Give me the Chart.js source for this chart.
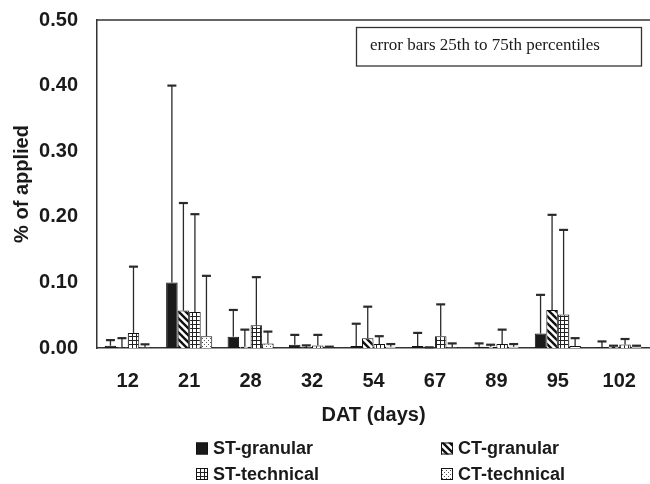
<!DOCTYPE html>
<html>
<head>
<meta charset="utf-8">
<script src="https://cdn.jsdelivr.net/npm/chart.js@4.4.1/dist/chart.umd.min.js"></script>
<style>
  html, body { margin: 0; padding: 0; background: #fff; }
  #wrap { width: 650px; height: 484px; }
</style>
</head>
<body>
<div id="wrap"><canvas id="chart" width="650" height="484"></canvas></div>
<script>
// ===== data =====
var DAYS = ["12", "21", "28", "32", "54", "67", "89", "95", "102"];
var Y_TICKS = [0, 0.1, 0.2, 0.3, 0.4, 0.5];
var SERIES_NAMES = ["ST-granular", "CT-granular", "ST-technical", "CT-technical"];

// median values (bar height)
var ST_GRANULAR  = [0.0035, 0.100, 0.017, 0.005, 0.003, 0.003, 0.002, 0.022, 0.001];
var CT_GRANULAR  = [0.001, 0.057, 0.002, 0.001, 0.015, 0.0005, 0.002, 0.058, 0.002];
var ST_TECHNICAL = [0.023, 0.055, 0.0345, 0.004, 0.006, 0.018, 0.006, 0.051, 0.0055];
var CT_TECHNICAL = [0.001, 0.018, 0.007, 0.001, 0.002, 0.001, 0.002, 0.003, 0.002];

// 75th percentiles (top of error bar)
var ST_GRANULAR_P75  = [0.012, 0.400, 0.058, 0.020, 0.037, 0.023, 0.007, 0.081, 0.010];
var CT_GRANULAR_P75  = [0.015, 0.221, 0.028, 0.004, 0.063, 0.001, 0.005, 0.203, 0.0035];
var ST_TECHNICAL_P75 = [0.124, 0.204, 0.108, 0.020, 0.018, 0.0665, 0.028, 0.180, 0.0137];
var CT_TECHNICAL_P75 = [0.0056, 0.110, 0.025, 0.002, 0.006, 0.007, 0.006, 0.015, 0.0035];

var NOTE = "error bars 25th to 75th percentiles";
var SANS = "'Liberation Sans', Arial, sans-serif";
var INK = "#1a1a1a";

// ===== fill patterns =====
function makePattern(kind) {
  var p = document.createElement("canvas");
  var c = p.getContext("2d");
  if (kind === "diag") {
    p.width = 7; p.height = 7;
    c.fillStyle = "#fff"; c.fillRect(0, 0, 7, 7);
    c.strokeStyle = "#111"; c.lineWidth = 2.4;
    c.beginPath();
    c.moveTo(-1, -1); c.lineTo(8, 8);
    c.moveTo(-1, 6); c.lineTo(1, 8);
    c.moveTo(6, -1); c.lineTo(8, 1);
    c.stroke();
  } else if (kind === "grid") {
    p.width = 4; p.height = 4;
    c.fillStyle = "#fff"; c.fillRect(0, 0, 4, 4);
    c.fillStyle = "#222";
    c.fillRect(0, 0, 4, 1);
    c.fillRect(0, 0, 1, 4);
  } else {
    p.width = 4; p.height = 4;
    c.fillStyle = "#fff"; c.fillRect(0, 0, 4, 4);
    c.fillStyle = "#555";
    c.fillRect(0, 0, 1, 1);
    c.fillRect(2, 2, 1, 1);
  }
  return c.createPattern(p, "repeat");
}

var FILLS = ["#1a1a1a", makePattern("diag"), makePattern("grid"), makePattern("dots")];
var VALUES = [ST_GRANULAR, CT_GRANULAR, ST_TECHNICAL, CT_TECHNICAL];
var UPPER = [ST_GRANULAR_P75, CT_GRANULAR_P75, ST_TECHNICAL_P75, CT_TECHNICAL_P75];

var datasets = [];
for (var i = 0; i < SERIES_NAMES.length; i++) {
  datasets.push({
    label: SERIES_NAMES[i],
    data: VALUES[i],
    p75: UPPER[i],
    backgroundColor: FILLS[i],
    borderColor: "#111",
    borderWidth: 1,
    categoryPercentage: 0.75,
    barPercentage: 1.0
  });
}

// ===== plugins: error bars, frame, note box, legend =====
var errorBars = {
  id: "errorBars",
  afterDatasetsDraw: function (chart) {
    var ctx = chart.ctx, y = chart.scales.y;
    ctx.save();
    ctx.strokeStyle = "#2a2a2a";
    chart.data.datasets.forEach(function (ds, di) {
      var meta = chart.getDatasetMeta(di);
      meta.data.forEach(function (bar, i) {
        var y0 = y.getPixelForValue(ds.data[i]);
        var y1 = y.getPixelForValue(ds.p75[i]);
        ctx.lineWidth = 1.3;
        ctx.beginPath();
        ctx.moveTo(bar.x, y0);
        ctx.lineTo(bar.x, y1);
        ctx.stroke();
        ctx.lineWidth = 2.2;
        ctx.beginPath();
        ctx.moveTo(bar.x - 4.5, y1);
        ctx.lineTo(bar.x + 4.5, y1);
        ctx.stroke();
      });
    });
    ctx.restore();
  }
};

var decorations = {
  id: "decorations",
  afterDraw: function (chart) {
    var ctx = chart.ctx, a = chart.chartArea;
    ctx.save();
    // top frame line
    ctx.strokeStyle = "#333";
    ctx.lineWidth = 1.5;
    ctx.beginPath();
    ctx.moveTo(a.left, a.top);
    ctx.lineTo(a.right, a.top);
    ctx.stroke();

    // note box
    ctx.lineWidth = 1.3;
    ctx.strokeRect(356.5, 27.5, 285, 38.5);
    ctx.fillStyle = INK;
    ctx.font = "17px 'Liberation Serif', 'Times New Roman', serif";
    ctx.textBaseline = "alphabetic";
    ctx.textAlign = "left";
    ctx.fillText(NOTE, 370, 50);

    // legend (2 x 2)
    var spots = [[196, 448.5], [441, 448.5], [196, 474], [441, 474]];
    ctx.font = "bold 18px " + SANS;
    ctx.textBaseline = "middle";
    for (var k = 0; k < SERIES_NAMES.length; k++) {
      var sx = spots[k][0], sy = spots[k][1];
      ctx.fillStyle = FILLS[k];
      ctx.fillRect(sx, sy - 6, 12, 12);
      ctx.strokeStyle = "#111";
      ctx.lineWidth = 1;
      ctx.strokeRect(sx + 0.5, sy - 5.5, 11, 11);
      ctx.fillStyle = INK;
      ctx.fillText(SERIES_NAMES[k], sx + 17, sy + 1);
    }
    ctx.restore();
  }
};

new Chart(document.getElementById("chart"), {
  type: "bar",
  data: { labels: DAYS, datasets: datasets },
  plugins: [errorBars, decorations],
  options: {
    responsive: false,
    animation: false,
    devicePixelRatio: 1,
    layout: { padding: { top: 20, bottom: 56, left: 0, right: 0 } },
    plugins: {
      legend: { display: false },
      tooltip: { enabled: false }
    },
    scales: {
      x: {
        grid: { display: false, drawTicks: false },
        border: { display: true, color: "#333", width: 1.5 },
        ticks: { color: INK, padding: 21, font: { family: SANS, size: 20, weight: "bold" } },
        title: { display: true, text: "DAT (days)", color: INK, padding: { top: 0, bottom: 1 },
                 font: { family: SANS, size: 20, weight: "bold" } },
        afterFit: function (s) { s.height = 80; s.paddingLeft = 0; s.paddingRight = 0; }
      },
      y: {
        min: 0,
        max: 0.5,
        afterBuildTicks: function (s) {
          s.ticks = Y_TICKS.map(function (v) { return { value: v }; });
        },
        grid: { display: false, drawTicks: false },
        border: { display: true, color: "#333", width: 1.5 },
        ticks: {
          color: INK, padding: 19,
          font: { family: SANS, size: 20, weight: "bold" },
          callback: function (v) { return Number(v).toFixed(2); }
        },
        title: { display: true, text: "% of applied", color: INK, padding: { top: 10, bottom: 0 },
                 font: { family: SANS, size: 20, weight: "bold" } },
        afterFit: function (s) { s.width = 97; s.paddingTop = 0; s.paddingBottom = 0; }
      }
    }
  }
});
</script>
</body>
</html>
